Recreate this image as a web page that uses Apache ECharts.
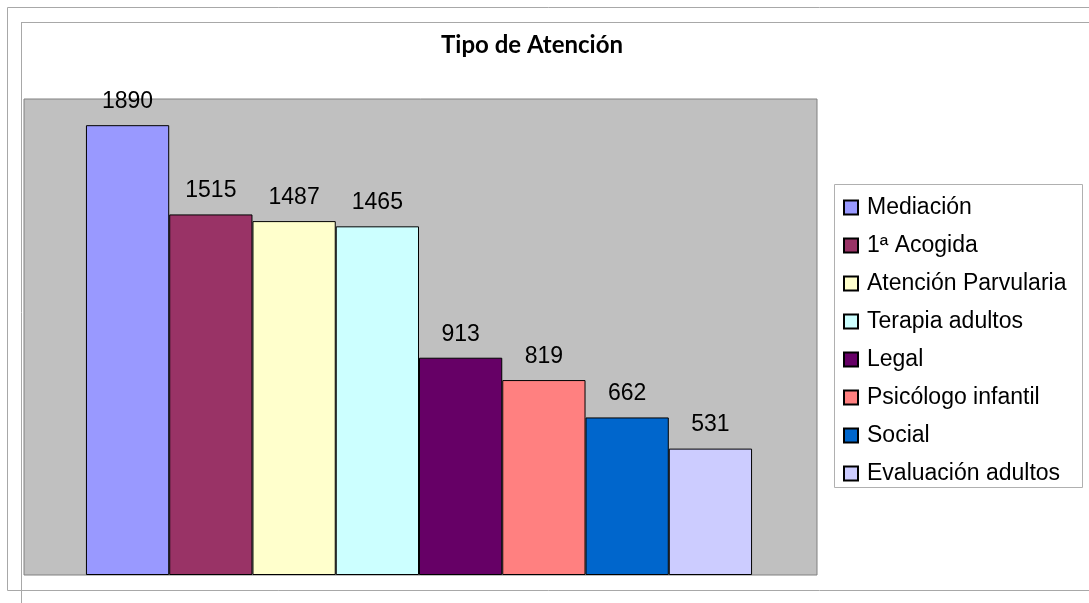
<!DOCTYPE html>
<html>
<head>
<meta charset="utf-8">
<script src="https://cdn.jsdelivr.net/npm/echarts@6/dist/echarts.min.js"></script>
<style>html,body{margin:0;padding:0;background:#fff;}#c{width:1089px;height:603px;}</style>
</head>
<body>
<div id="c"></div>
<script>
const titleText = 'Tipo de Atención';
const seriesNames = ['Mediación', '1ª Acogida', 'Atención Parvularia', 'Terapia adultos', 'Legal', 'Psicólogo infantil', 'Social', 'Evaluación adultos'];
const seriesValues = [1890, 1515, 1487, 1465, 913, 819, 662, 531];
const seriesColors = ['#9999FF', '#993366', '#FFFFCC', '#CCFFFF', '#660066', '#FF8080', '#0066CC', '#CCCCFF'];
const categories = [''];

const chart = echarts.init(document.getElementById('c'), null, {renderer: 'canvas'});
const font = '"Liberation Sans", Arial, sans-serif';

const series = seriesNames.map((n, i) => ({
  name: n,
  type: 'bar',
  data: [seriesValues[i]],
  barGap: '0%',
  barCategoryGap: '16%',
  itemStyle: {color: seriesColors[i], borderColor: '#000', borderWidth: 1},
  label: {show: true, position: 'top', distance: 12, fontSize: 23, fontFamily: font, color: '#000'},
  emphasis: {disabled: true},
  animation: false
}));

chart.setOption({
  animation: false,
  title: {
    text: titleText,
    left: 532, top: 33, padding: 0, textAlign: 'center',
    textStyle: {fontFamily: 'Lato, "Open Sans", sans-serif', fontWeight: 'bold', fontSize: 24, color: '#000'}
  },
  grid: {left: 22.5, top: 99, width: 793, height: 476, show: false, containLabel: false},
  xAxis: {type: 'category', data: categories, show: false},
  yAxis: {type: 'value', min: 0, max: 2000, show: false, splitLine: {show: false}},
  legend: {
    orient: 'vertical', left: 843, top: 196, padding: 0,
    itemWidth: 14, itemHeight: 14, itemGap: 15,
    icon: 'rect',
    selectedMode: false,
    textStyle: {fontFamily: font, fontSize: 23, lineHeight: 22, color: '#000', padding: [0, 0, 0, 4]},
    data: seriesNames
  },
  graphic: [
    {type: 'rect', silent: true, z: -10, shape: {x: 7.5, y: 7.5, width: 1090, height: 583}, style: {fill: 'none', stroke: '#A8A8A8', lineWidth: 1}},
    {type: 'line', silent: true, z: -10, shape: {x1: 21.5, y1: 22, x2: 21.5, y2: 603}, style: {stroke: '#A8A8A8', lineWidth: 1}},
    {type: 'line', silent: true, z: -10, shape: {x1: 21, y1: 22.5, x2: 1089, y2: 22.5}, style: {stroke: '#A8A8A8', lineWidth: 1}},
    {type: 'rect', silent: true, z: -5, shape: {x: 24, y: 99, width: 793, height: 476}, style: {fill: '#C0C0C0', stroke: '#808080', lineWidth: 1}},
    {type: 'rect', silent: true, z: -5, shape: {x: 834.5, y: 184.5, width: 248, height: 303}, style: {fill: '#fff', stroke: '#B0B0B0', lineWidth: 1}}
  ],
  series: series
});
</script>
</body>
</html>
